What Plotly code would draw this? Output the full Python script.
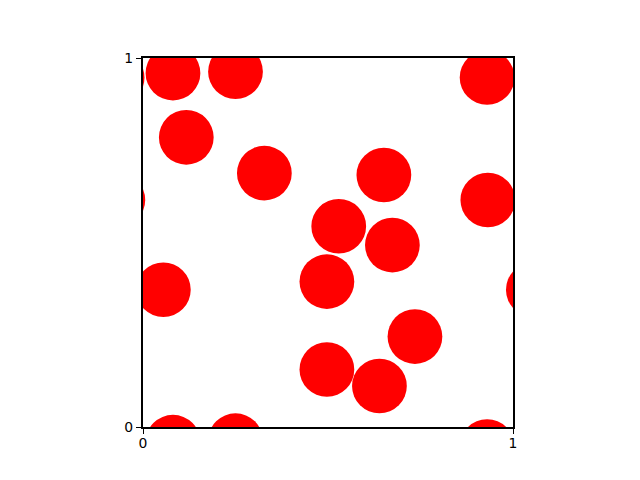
import plotly.graph_objects as go

# circle centers (data units, periodic unit box)
cx = [0.081, 0.250, 0.117, 0.328, 0.651, 0.930, 0.932, 0.529, 0.674,
      0.497, 0.055, 0.735, 0.497, 0.639]
cy = [0.959, 0.963, 0.785, 0.688, 0.683, 0.947, 0.615, 0.544, 0.493,
      0.394, 0.372, 0.245, 0.156, 0.111]
radius = 0.074
tick_vals = [0, 1]
tick_text = ["0", "1"]

fig = go.Figure()
fig.add_trace(go.Scatter(x=[], y=[], mode="markers", showlegend=False))

shapes = []
for x, y in zip(cx, cy):
    for dx in (-1, 0, 1):
        for dy in (-1, 0, 1):
            X, Y = x + dx, y + dy
            if X + radius < 0 or X - radius > 1 or Y + radius < 0 or Y - radius > 1:
                continue
            shapes.append(dict(type="circle", xref="x", yref="y",
                               x0=X - radius, x1=X + radius,
                               y0=Y - radius, y1=Y + radius,
                               fillcolor="#ff0000", line=dict(width=0),
                               layer="below"))

axis_common = dict(range=[0, 1], showgrid=False, zeroline=False,
                   showline=True, linecolor="black", linewidth=2.4, mirror=True,
                   ticks="outside", ticklen=5, tickwidth=1, tickcolor="black",
                   tickmode="array", tickvals=tick_vals, ticktext=tick_text,
                   tickfont=dict(family="DejaVu Sans", size=13.9, color="black"))

fig.update_layout(
    width=640, height=480,
    margin=dict(l=135, r=135, t=50, b=61, pad=0),
    paper_bgcolor="white", plot_bgcolor="white",
    shapes=shapes,
    xaxis=dict(axis_common, ticklabelstandoff=-3),
    yaxis=dict(axis_common, ticklabelstandoff=0),
    showlegend=False,
)

fig.write_html("out.html")
